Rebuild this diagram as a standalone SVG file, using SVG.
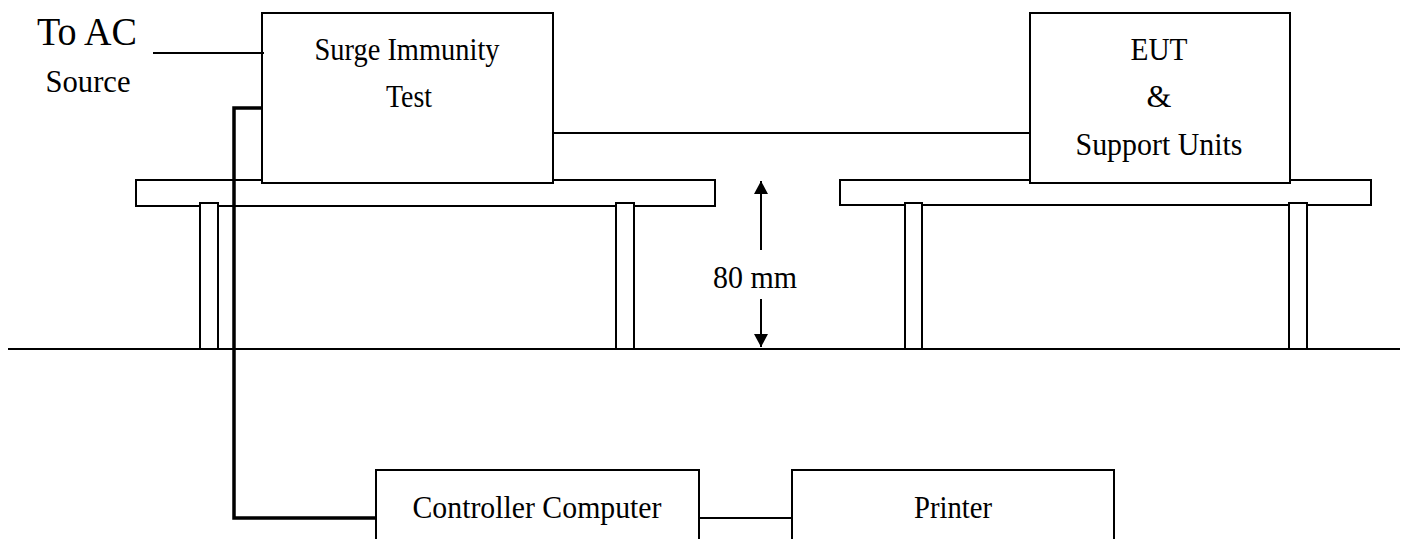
<svg xmlns="http://www.w3.org/2000/svg" width="1408" height="539" viewBox="0 0 1408 539">
<style>
.s{fill:#fff;stroke:#000;stroke-width:2}
.l{fill:none;stroke:#000;stroke-width:2}
.k{fill:none;stroke:#000;stroke-width:3.5}
.t{font-family:"Liberation Serif","Times New Roman",serif;font-size:32px;fill:#000;text-anchor:middle}
</style>
<defs>
<marker id="ah" markerWidth="14" markerHeight="14" refX="13" refY="7" orient="auto" markerUnits="userSpaceOnUse">
<path d="M0,0 L13,7 L0,14 Z" fill="#000"/>
</marker>
</defs>
<g id="ground"><line class="l" x1="8" y1="349" x2="1400" y2="349"/></g>
<g id="table1">
<rect class="s" x="136" y="180" width="579" height="26"/>
<rect class="s" x="200" y="203" width="18" height="146"/>
<rect class="s" x="616" y="203" width="18" height="146"/>
</g>
<g id="table2">
<rect class="s" x="840" y="180" width="531" height="25"/>
<rect class="s" x="905" y="203" width="17" height="146"/>
<rect class="s" x="1289" y="203" width="18" height="146"/>
</g>
<g id="ac-label">
<text class="t" x="87" y="45" style="font-size:39px" textLength="100" lengthAdjust="spacingAndGlyphs">To AC</text>
<text class="t" x="88" y="92" textLength="85" lengthAdjust="spacingAndGlyphs">Source</text>
</g>
<g id="surge">
<rect class="s" x="262" y="13" width="291" height="170"/>
<text class="t" x="407" y="60" textLength="185" lengthAdjust="spacingAndGlyphs">Surge Immunity</text>
<text class="t" x="409" y="107" textLength="46" lengthAdjust="spacingAndGlyphs">Test</text>
</g>
<g id="eut">
<rect class="s" x="1030" y="13" width="260" height="170"/>
<text class="t" x="1159" y="60" textLength="57" lengthAdjust="spacingAndGlyphs">EUT</text>
<text class="t" x="1159" y="107">&amp;</text>
<text class="t" x="1159" y="155" textLength="167" lengthAdjust="spacingAndGlyphs">Support Units</text>
</g>
<g id="controller">
<rect class="s" x="376" y="470" width="323" height="80"/>
<text class="t" x="537" y="518" textLength="249" lengthAdjust="spacingAndGlyphs">Controller Computer</text>
</g>
<g id="printer">
<rect class="s" x="792" y="470" width="322" height="80"/>
<text class="t" x="953" y="518" textLength="78" lengthAdjust="spacingAndGlyphs">Printer</text>
</g>
<g id="dimension">
<line class="l" x1="761" y1="250" x2="761" y2="181" marker-end="url(#ah)"/>
<line class="l" x1="761" y1="299" x2="761" y2="347" marker-end="url(#ah)"/>
<text class="t" x="755" y="288" textLength="84" lengthAdjust="spacingAndGlyphs">80 mm</text>
</g>
<g id="connectors">
<line class="l" x1="153" y1="53" x2="264" y2="53"/>
<line class="l" x1="553" y1="133" x2="1030" y2="133"/>
<line class="l" x1="699" y1="518" x2="792" y2="518"/>
<polyline class="k" points="262,108 234,108 234,518 376,518"/>
</g>
</svg>
